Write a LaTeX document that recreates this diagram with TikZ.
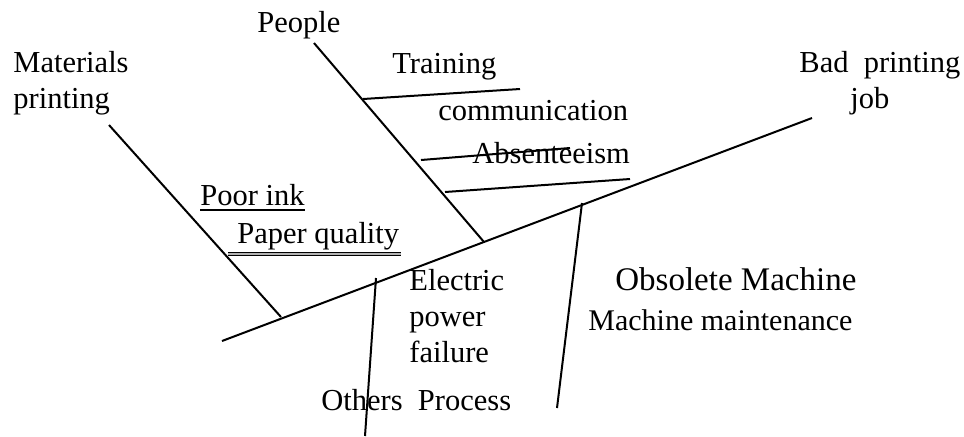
\documentclass[tikz,border=0pt]{standalone}
\usepackage{fontspec}
\setmainfont{Liberation Serif}
\usetikzlibrary{calc}

\begin{document}
\begin{tikzpicture}[x=0.5pt,y=-0.5pt,
  bone/.style={line width=1pt},
  lbl/.style={inner sep=0pt,anchor=base west,align=left,
              font=\fontsize{15.25}{18}\selectfont},
]
\useasboundingbox (0,0) rectangle (964,436);
% spine and main bones
\coordinate (tail) at (222,341);
\coordinate (head) at (812,118);
\coordinate (matTop) at (109,125);
\coordinate (matEnd) at (281,317);
\coordinate (pplTop) at (314,43);
\coordinate (pplEnd) at (484,242);
\coordinate (othTop) at (376,278);
\coordinate (othEnd) at (365,436);
\coordinate (proTop) at (582,203);
\coordinate (proEnd) at (557,408);
\draw[bone] (tail) -- (head);
\draw[bone] (matTop) -- (matEnd);
\draw[bone] (pplTop) -- (pplEnd);
\draw[bone] (othTop) -- (othEnd);
\draw[bone] (proTop) -- (proEnd);
% small bones on People
\coordinate (trnA) at (363,99);
\coordinate (trnB) at (520,89);
\coordinate (absA) at (421,160);
\coordinate (absB) at (570,148);
\coordinate (comA) at (445,192);
\coordinate (comB) at (630,179);
\draw[bone] (trnA) -- (trnB);
\draw[bone] (absA) -- (absB);
\draw[bone] (comA) -- (comB);
% labels (base = last line)
\node[lbl] (materials) at (13,108) {Materials\\printing};
\node[lbl] (people) at (257,32) {People};
\node[lbl] (training) at (392,73) {Training};
\node[lbl] (communication) at (438,120) {communication};
\node[lbl] (absent) at (472,163) {Absenteeism};
\node[lbl] (bad) at (799,72) {Bad\ \ printing};
\node[lbl] (job) at (850,108) {job};
\node[lbl] (ink) at (200,205) {Poor ink};
\node[lbl] (paper) at (237,243) {Paper quality};
\node[lbl] (electric) at (409,362) {Electric\\power\\failure};
\node[lbl,font=\fontsize{16.5}{19}\selectfont] (obsolete) at (615,290) {Obsolete Machine};
\node[lbl,font=\fontsize{15}{18}\selectfont] (maint) at (588,330) {Machine maintenance};
\node[lbl] (others) at (321,410) {Others\ \ Process};
% underlines
\draw[line width=0.7pt] ($(ink.base west)+(0,5)$) -- ($(ink.base east)+(0,5)$);
\draw[line width=0.6pt,double=gray!60,double distance=0.6pt]
  ($(paper.base west)+(-9,11)$) -- ($(paper.base east)+(1,11)$);
\end{tikzpicture}
\end{document}
